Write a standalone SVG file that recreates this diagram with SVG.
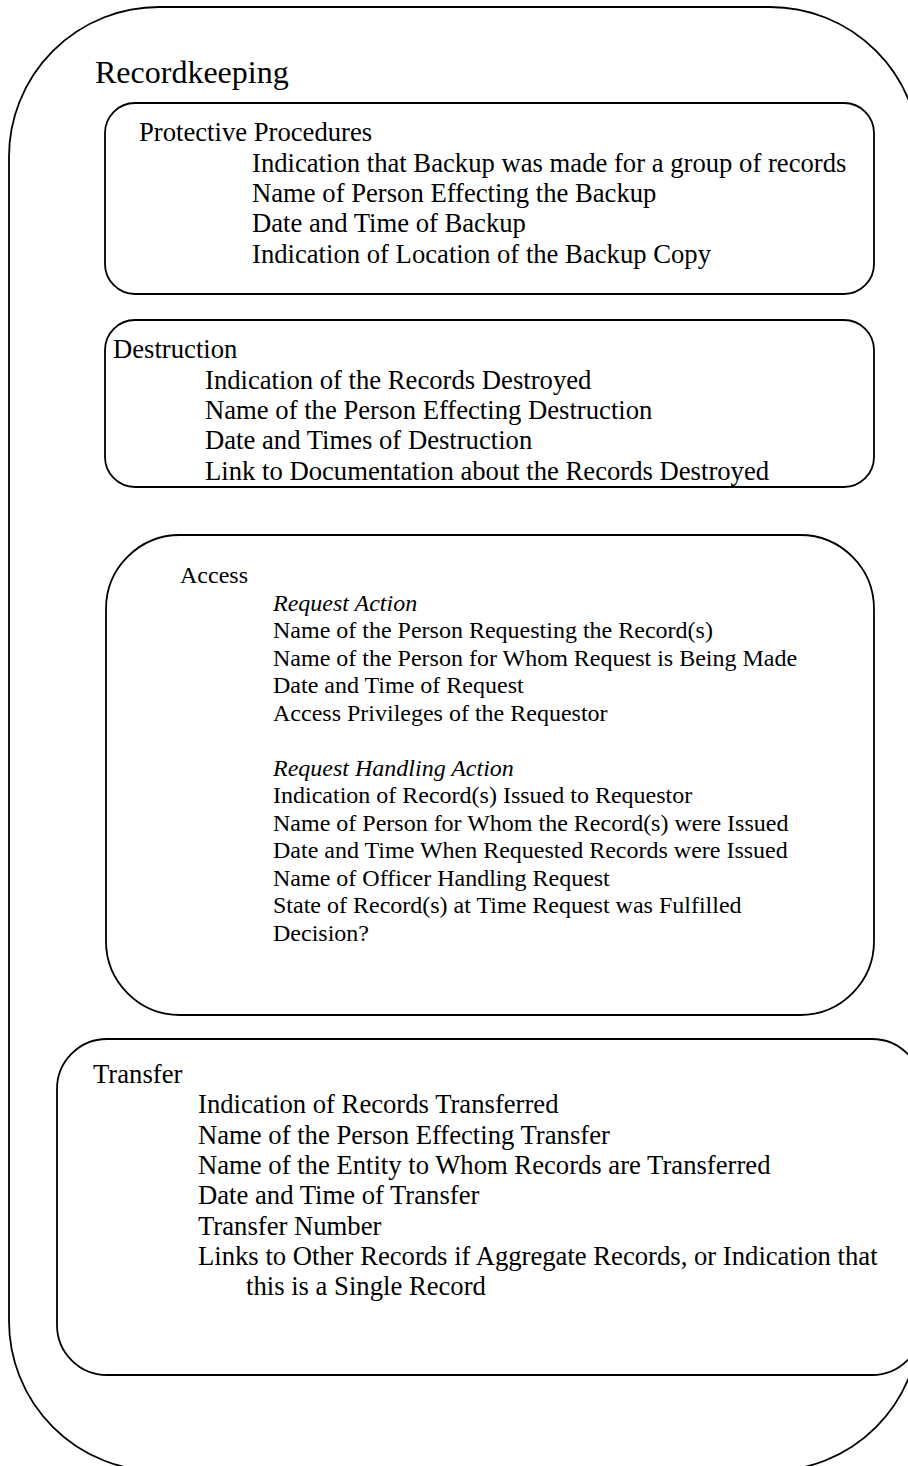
<svg xmlns="http://www.w3.org/2000/svg" width="908" height="1466" viewBox="0 0 908 1466">
<style>
.box{fill:none;stroke:#000;stroke-width:1.8}
.t{font-family:"Liberation Serif","Times New Roman",serif;fill:#000}
.big{font-size:32px}
.md{font-size:26.67px}
.sm{font-size:24px}
.it{font-style:italic}
</style>
<rect x="0" y="0" width="908" height="1466" fill="#fff"/>
<g id="recordkeeping">
<rect class="box" x="9" y="7" width="911" height="1464" rx="150" ry="150"/>
<text class="t big" x="95" y="83">Recordkeeping</text>
</g>
<g id="protective">
<rect class="box" x="105" y="103" width="769" height="191" rx="30" ry="30"/>
<text class="t md" x="139" y="141">Protective Procedures</text>
<text class="t md" x="252" y="172">Indication that Backup was made for a group of records</text>
<text class="t md" x="252" y="202">Name of Person Effecting the Backup</text>
<text class="t md" x="252" y="232">Date and Time of Backup</text>
<text class="t md" x="252" y="263">Indication of Location of the Backup Copy</text>
</g>
<g id="destruction">
<rect class="box" x="105" y="320" width="769" height="167" rx="30" ry="30"/>
<text class="t md" x="113" y="358">Destruction</text>
<text class="t md" x="205" y="389">Indication of the Records Destroyed</text>
<text class="t md" x="205" y="419">Name of the Person Effecting Destruction</text>
<text class="t md" x="205" y="449">Date and Times of Destruction</text>
<text class="t md" x="205" y="480">Link to Documentation about the Records Destroyed</text>
</g>
<g id="access">
<rect class="box" x="106" y="535" width="768" height="480" rx="74" ry="74"/>
<text class="t sm" x="180" y="583">Access</text>
<text class="t sm it" x="273" y="611">Request Action</text>
<text class="t sm" x="273" y="638">Name of the Person Requesting the Record(s)</text>
<text class="t sm" x="273" y="666">Name of the Person for Whom Request is Being Made</text>
<text class="t sm" x="273" y="693">Date and Time of Request</text>
<text class="t sm" x="273" y="721">Access Privileges of the Requestor</text>
<text class="t sm it" x="273" y="776">Request Handling Action</text>
<text class="t sm" x="273" y="803">Indication of Record(s) Issued to Requestor</text>
<text class="t sm" x="273" y="831">Name of Person for Whom the Record(s) were Issued</text>
<text class="t sm" x="273" y="858">Date and Time When Requested Records were Issued</text>
<text class="t sm" x="273" y="886">Name of Officer Handling Request</text>
<text class="t sm" x="273" y="913">State of Record(s) at Time Request was Fulfilled</text>
<text class="t sm" x="273" y="941">Decision?</text>
</g>
<g id="transfer">
<rect class="box" x="57" y="1039" width="865" height="336" rx="50" ry="50"/>
<text class="t md" x="93" y="1083">Transfer</text>
<text class="t md" x="198" y="1113">Indication of Records Transferred</text>
<text class="t md" x="198" y="1144">Name of the Person Effecting Transfer</text>
<text class="t md" x="198" y="1174">Name of the Entity to Whom Records are Transferred</text>
<text class="t md" x="198" y="1204">Date and Time of Transfer</text>
<text class="t md" x="198" y="1235">Transfer Number</text>
<text class="t md" x="198" y="1265">Links to Other Records if Aggregate Records, or Indication that</text>
<text class="t md" x="246" y="1295">this is a Single Record</text>
</g>
<g id="connectors"></g>
</svg>
